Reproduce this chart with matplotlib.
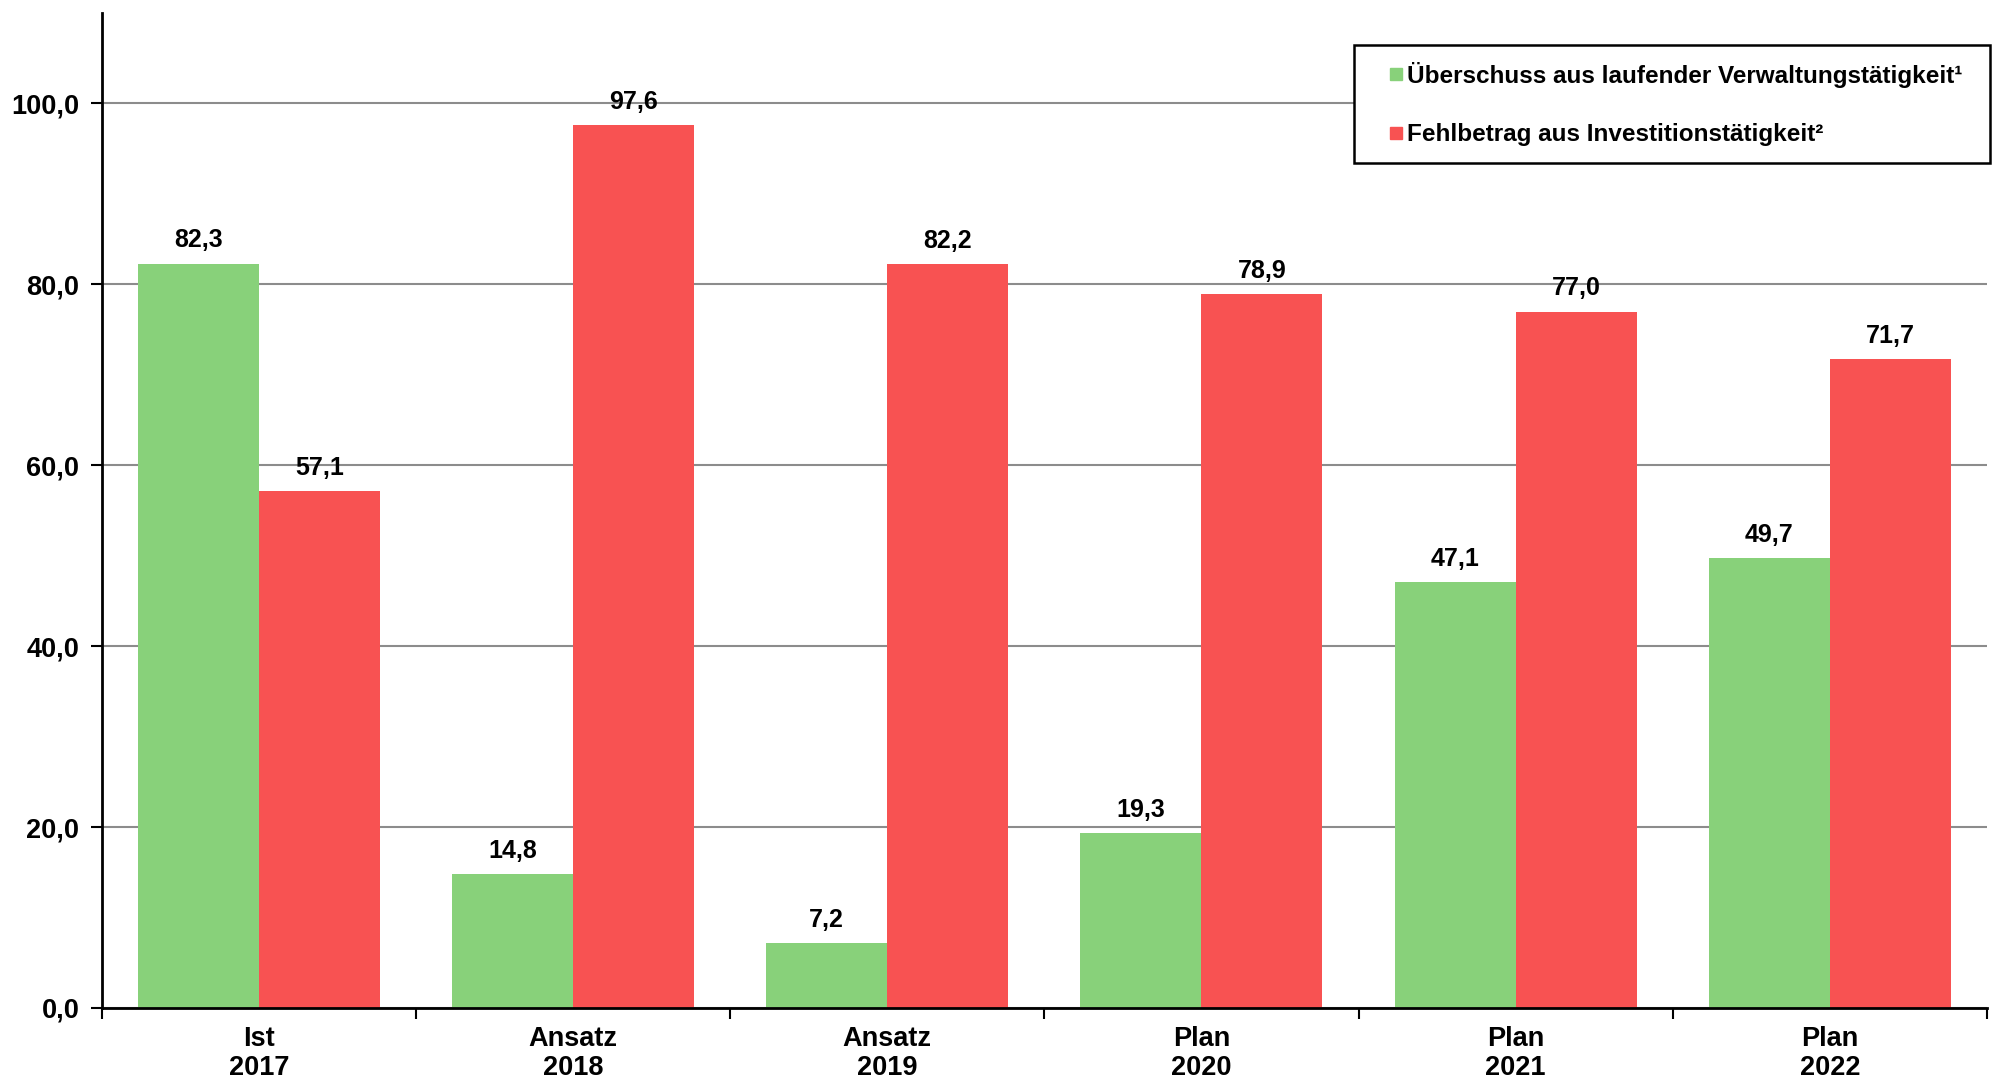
import numpy as np
import matplotlib.pyplot as plt
from matplotlib.lines import Line2D
from matplotlib.ticker import FixedLocator, FuncFormatter

# Data
categories = ["Ist\n2017", "Ansatz\n2018", "Ansatz\n2019", "Plan\n2020", "Plan\n2021", "Plan\n2022"]
ueberschuss = [82.3, 14.8, 7.2, 19.3, 47.1, 49.7]
fehlbetrag = [57.1, 97.6, 82.2, 78.9, 77.0, 71.7]
series_names = ["Überschuss aus laufender Verwaltungstätigkeit¹",
                "Fehlbetrag aus Investitionstätigkeit²"]
yticks = [0, 20, 40, 60, 80, 100]

GREEN = "#88D17A"
RED = "#F85252"
FONT = ["Liberation Sans", "DejaVu Sans"]


def de_fmt(v):
    return f"{v:.1f}".replace(".", ",")


def main():
    fig = plt.figure(figsize=(19.93, 10.85), dpi=100)
    ax = fig.add_axes([0.051, 0.071, 0.946, 0.917])

    x = np.arange(len(categories))
    w = 0.385
    b1 = ax.bar(x - w / 2, ueberschuss, w, color=GREEN, zorder=2)
    b2 = ax.bar(x + w / 2, fehlbetrag, w, color=RED, zorder=2)

    for bars, vals in ((b1, ueberschuss), (b2, fehlbetrag)):
        for r, v in zip(bars, vals):
            ax.annotate(de_fmt(v), (r.get_x() + r.get_width() / 2, r.get_height()),
                        xytext=(0, 8), textcoords="offset points",
                        ha="center", va="bottom", fontsize=18, fontweight="bold",
                        family=FONT)

    ax.set_xlim(-0.5, len(categories) - 0.5)
    ax.set_ylim(0, 110)

    ax.set_yticks(yticks)
    ax.yaxis.set_major_formatter(FuncFormatter(lambda v, p: de_fmt(v)))
    for lab in ax.get_yticklabels():
        lab.set_fontweight("bold")
        lab.set_fontsize(19.5)
        lab.set_family(FONT)
    ax.yaxis.grid(True, color="#8c8c8c", linewidth=1.5, zorder=0)
    ax.set_axisbelow(True)

    # category labels at centres, tick marks at the boundaries
    ax.set_xticks(x)
    ax.set_xticklabels(categories, fontsize=19.5, fontweight="bold", family=FONT,
                       linespacing=1.15)
    ax.tick_params(axis="x", which="major", length=0, pad=13)
    ax.xaxis.set_minor_locator(FixedLocator(np.arange(-0.5, len(categories), 1.0)))
    ax.tick_params(axis="x", which="minor", length=8, width=1.5, direction="out")
    ax.tick_params(axis="y", length=8, width=1.5, direction="out", pad=8)

    for side in ("top", "right"):
        ax.spines[side].set_visible(False)
    ax.spines["left"].set_linewidth(2)
    ax.spines["bottom"].set_linewidth(2)

    handles = [Line2D([], [], linestyle="none", marker="s", markersize=8.5,
                      markerfacecolor=c, markeredgecolor=c) for c in (GREEN, RED)]
    leg = ax.legend(handles, series_names, loc="upper left",
                    bbox_to_anchor=(0.6645, 0.968, 0.337, 0.0), mode="expand",
                    prop={"family": FONT, "weight": "bold", "size": 17.5},
                    handlelength=2.0, handletextpad=-0.55,
                    labelspacing=1.45, borderpad=0.7, borderaxespad=0,
                    fancybox=False, edgecolor="black", framealpha=1)
    leg.get_frame().set_linewidth(1.8)

    fig.savefig("out.png", dpi=100)
    plt.close(fig)


if __name__ == "__main__":
    main()
